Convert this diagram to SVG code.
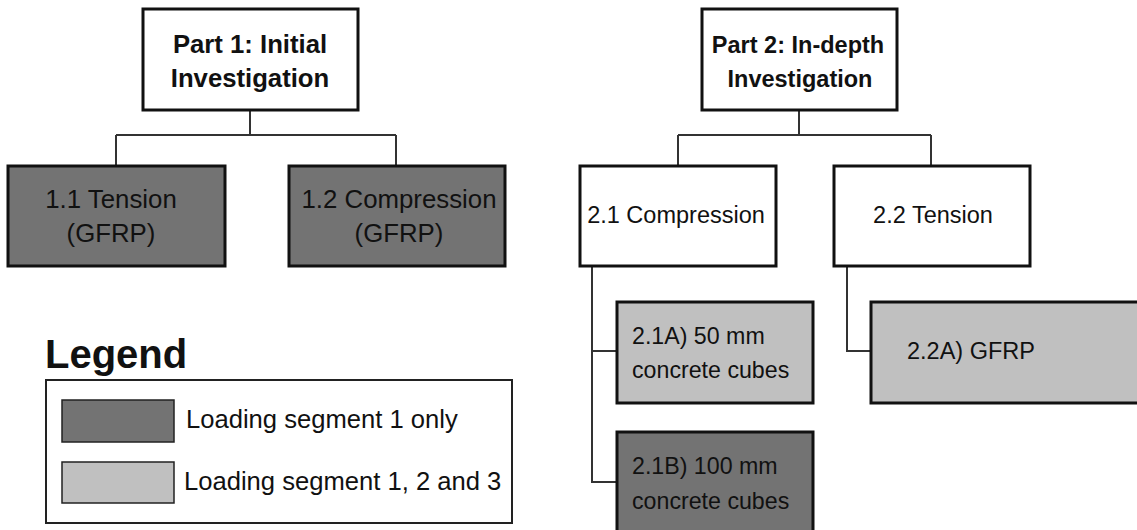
<svg xmlns="http://www.w3.org/2000/svg" width="1137" height="530" viewBox="0 0 1137 530">
<style>
.box{stroke:#111;stroke-width:3}
.w{fill:#fff}
.d{fill:#737373}
.l{fill:#c0c0c0}
.sw{stroke:#222;stroke-width:1.5}
.t{font-family:"Liberation Sans",Arial,sans-serif;fill:#111}
.b{font-weight:bold}
.conn{fill:none;stroke:#333;stroke-width:2}
</style>
<rect width="1137" height="530" fill="#fff"/>
<g id="connectors">
<path class="conn" d="M250 110V135M116 135H396M116 135V166M396 135V166"/>
<path class="conn" d="M799 110V135M678 135H931M678 135V166M931 135V166"/>
<path class="conn" d="M592 266V482H617M592 351H617"/>
<path class="conn" d="M847 266V351H871"/>
</g>
<g id="part1">
<rect class="box w" x="143" y="9" width="215" height="101"/>
<text class="t b" font-size="25.7" text-anchor="middle"><tspan x="250" y="53">Part 1: Initial</tspan><tspan x="250" y="87">Investigation</tspan></text>
</g>
<g id="n11">
<rect class="box d" x="8" y="166" width="217" height="100"/>
<text class="t" font-size="25.8" text-anchor="middle"><tspan x="111" y="208">1.1 Tension</tspan><tspan x="111" y="242">(GFRP)</tspan></text>
</g>
<g id="n12">
<rect class="box d" x="289" y="166" width="216" height="100"/>
<text class="t" font-size="25.8" text-anchor="middle"><tspan x="399" y="208">1.2 Compression</tspan><tspan x="399" y="242">(GFRP)</tspan></text>
</g>
<g id="part2">
<rect class="box w" x="702" y="9" width="195" height="101"/>
<text class="t b" font-size="23.5" text-anchor="middle"><tspan x="798" y="53">Part 2: In-depth</tspan><tspan x="800" y="87">Investigation</tspan></text>
</g>
<g id="n21">
<rect class="box w" x="580" y="166" width="196" height="100"/>
<text class="t" font-size="23.5" x="676" y="223" text-anchor="middle">2.1 Compression</text>
</g>
<g id="n22">
<rect class="box w" x="834" y="166" width="196" height="100"/>
<text class="t" font-size="23.5" x="933" y="223" text-anchor="middle">2.2 Tension</text>
</g>
<g id="n21a">
<rect class="box l" x="617" y="302" width="196" height="101"/>
<text class="t" font-size="23.2"><tspan x="632" y="344">2.1A) 50 mm</tspan><tspan x="632" y="378">concrete cubes</tspan></text>
</g>
<g id="n21b">
<rect class="box d" x="617" y="432" width="196" height="110"/>
<text class="t" font-size="23.2"><tspan x="632" y="474">2.1B) 100 mm</tspan><tspan x="632" y="509">concrete cubes</tspan></text>
</g>
<g id="n22a">
<rect class="box l" x="871" y="302" width="280" height="101"/>
<text class="t" font-size="23.5" x="907" y="359">2.2A) GFRP</text>
</g>
<g id="legend">
<text class="t b" font-size="40" x="45" y="368" fill="#000">Legend</text>
<rect x="46" y="380" width="466" height="143" fill="#fff" stroke="#222" stroke-width="2"/>
<rect class="sw d" x="62" y="400" width="112" height="42"/>
<rect class="sw l" x="62" y="462" width="112" height="41"/>
<text class="t" font-size="25.6" x="186" y="428">Loading segment 1 only</text>
<text class="t" font-size="25.6" x="184" y="490">Loading segment 1, 2 and 3</text>
</g>
</svg>
